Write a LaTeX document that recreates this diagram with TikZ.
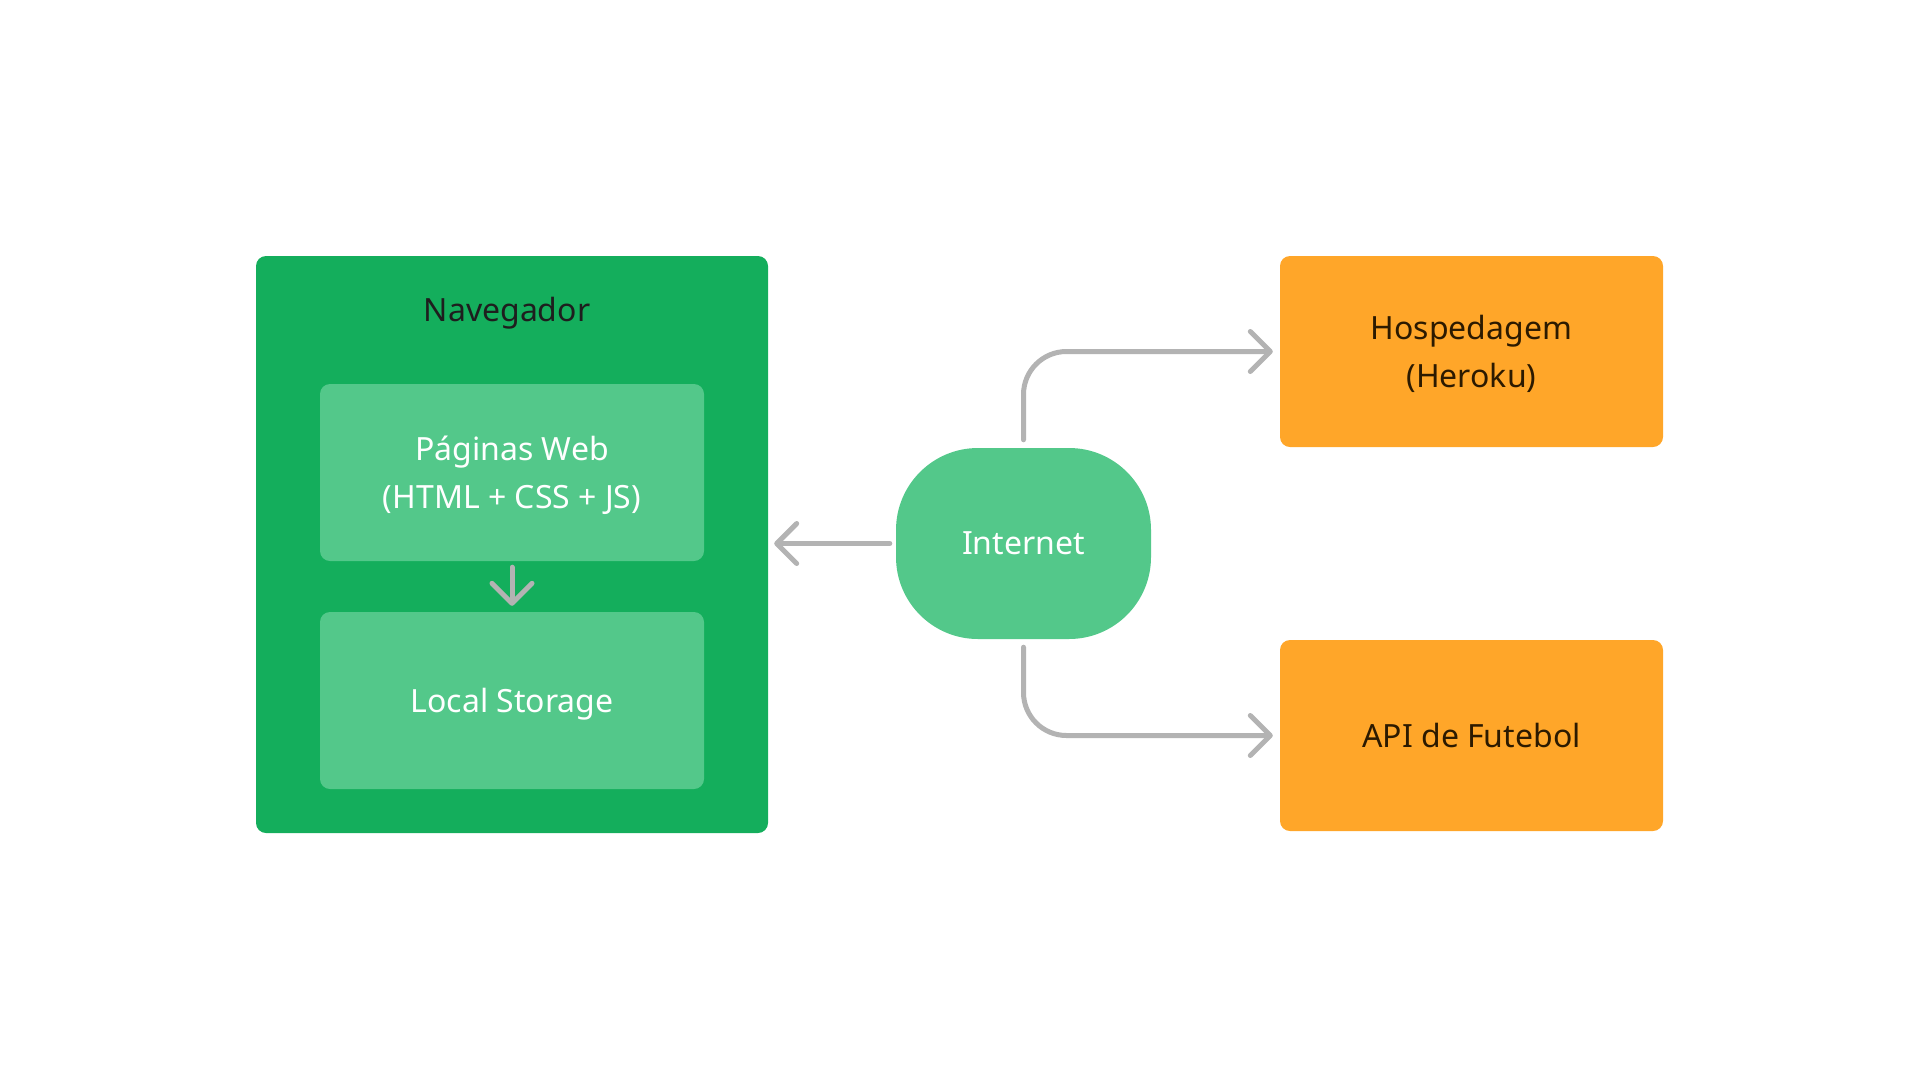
\documentclass[tikz,border=0pt]{standalone}
\usepackage{fontspec}
\setmainfont{Noto Sans}
\usetikzlibrary{arrows.meta}
\definecolor{navgreen}{RGB}{20,174,92}
\definecolor{lightgreen}{RGB}{83,200,138}
\definecolor{orangebox}{RGB}{255,166,41}
\definecolor{conngray}{RGB}{179,179,179}
\definecolor{darktext}{RGB}{30,30,30}
\definecolor{browntext}{RGB}{44,26,0}
\begin{document}
\begin{tikzpicture}[x=1pt,y=-1pt,
  box/.style={draw=none, rounded corners=10pt, inner sep=0pt, align=center,
    text depth=0pt, font=\fontsize{32}{48}\selectfont},
  navbox/.style={box, fill=navgreen, minimum width=512pt, minimum height=577pt},
  innerbox/.style={box, fill=lightgreen, text=white, minimum width=384pt, minimum height=177pt},
  extbox/.style={box, fill=orangebox, text=browntext, minimum width=383pt, minimum height=191pt},
  netbox/.style={box, fill=lightgreen, text=white, rounded corners=82pt, minimum width=255pt, minimum height=191pt},
  conn/.style={draw=conngray, line width=5pt, line cap=round, line join=round,
    -{Straight Barb[length=20pt,width=40pt,line cap=round,line join=round]}},
  lbl/.style={inner sep=0pt, text depth=0pt, font=\fontsize{32}{48}\selectfont}
]
\useasboundingbox (0,0) rectangle (1920,1088);
\node[navbox] (nav) at (512,544.5) {};
\node[lbl, text=darktext] (navlabel) at (507,309) {Navegador};
\node[innerbox] (pag) at (512,472.5) {Páginas Web\\(HTML + CSS + JS)};
\node[innerbox] (local) at (512,700.5) {Local Storage};
\node[netbox] (inet) at (1023.5,543.5) {Internet};
\node[extbox] (hosp) at (1471.5,351.5) {Hospedagem\\(Heroku)};
\node[extbox] (api) at (1471.5,735.5) {API de Futebol};

\draw[conn, shorten <=6pt, shorten >=6pt] (pag.south) -- (local.north);
\draw[conn, shorten <=6pt, shorten >=6pt] (inet.west) -- (inet.west -| nav.east);
\draw[conn, rounded corners=43pt, shorten <=8pt, shorten >=7pt] (inet.north) |- (hosp.west);
\draw[conn, rounded corners=43pt, shorten <=8pt, shorten >=7pt] (inet.south) |- (api.west);
\end{tikzpicture}
\end{document}
